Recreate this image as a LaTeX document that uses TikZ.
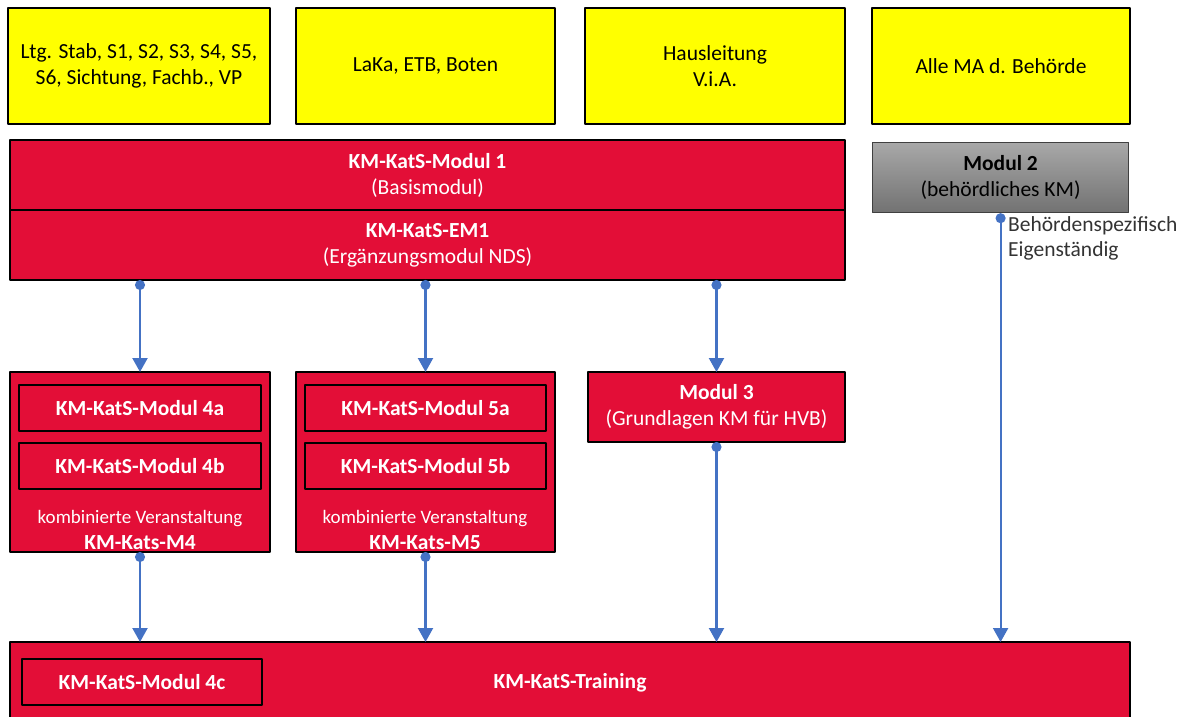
\documentclass[tikz,border=0pt]{standalone}
\usepackage{fontspec}
\setmainfont{Carlito}
\usetikzlibrary{arrows.meta}
\definecolor{kmred}{HTML}{E30E37}
\definecolor{kmyellow}{HTML}{FFFF00}
\definecolor{kmblue}{HTML}{4472C4}
\definecolor{greytop}{HTML}{A8A8A8}
\definecolor{greybot}{HTML}{727272}
\begin{document}
\begin{tikzpicture}[x=1pt,y=-1pt,line join=round,font=\fontsize{21.5}{26}\selectfont,
	grpbox/.style={draw,line width=2pt,fill=kmyellow,anchor=north west,align=center,inner sep=0pt,outer sep=0pt},
	modbox/.style={draw,line width=2pt,fill=kmred,text=white,anchor=north west,align=center,inner sep=0pt,outer sep=0pt},
	link/.style={kmblue,line width=2.2pt,{Circle[length=10pt]}-{Triangle[length=14pt,width=15pt]}}]
\useasboundingbox (0,0) rectangle (1187,717);
\clip (0,0) rectangle (1187,717);
	% Zielgruppen
	\node[grpbox,minimum width=262,minimum height=116] (g1) at (8,8) {Ltg. Stab, S1, S2, S3, S4, S5,\\S6, Sichtung, Fachb., VP};
	\node[grpbox,minimum width=259,minimum height=116] (g2) at (296,8) {LaKa, ETB, Boten};
	\node[grpbox,minimum width=260,minimum height=116] (g3) at (585,8) {Hausleitung\\V.i.A.};
	\node[grpbox,minimum width=258,minimum height=116] (g4) at (872,8) {Alle MA d. Behörde};
	% Basis
	\node[modbox,minimum width=835,minimum height=70] (mod1) at (10,140) {\textbf{KM-KatS-Modul 1}\\(Basismodul)};
	\node[modbox,minimum width=835,minimum height=70] (em1) at (10,210) {\textbf{KM-KatS-EM1}\\(Ergänzungsmodul NDS)};
	\node[draw,line width=1.2pt,draw=black!75,top color=greytop,bottom color=greybot,anchor=north west,align=center,inner sep=0pt,
		minimum width=256,minimum height=70] (mod2) at (872,142) {\textbf{Modul 2}\\(behördliches KM)};
	\node[anchor=north west,align=left,inner sep=0pt,font=\fontsize{21.5}{25}\selectfont,text=black!80] (spec) at (1008,216) {Behördenspezifisch\\Eigenständig};
	% Aufbau
	\node[modbox,minimum width=260,minimum height=180] (m4) at (10,372) {};
	\node[modbox,minimum width=242,minimum height=46] (m4a) at (19,385) {\textbf{KM-KatS-Modul 4a}};
	\node[modbox,minimum width=242,minimum height=46] (m4b) at (19,443) {\textbf{KM-KatS-Modul 4b}};
	\node[align=center,text=white,inner sep=0pt] (m4lbl) at (140,530) {{\fontsize{19}{22}\selectfont kombinierte Veranstaltung}\\\textbf{KM-Kats-M4}};
	\node[modbox,minimum width=259,minimum height=180] (m5) at (296,372) {};
	\node[modbox,minimum width=241,minimum height=46] (m5a) at (305,385) {\textbf{KM-KatS-Modul 5a}};
	\node[modbox,minimum width=241,minimum height=46] (m5b) at (305,443) {\textbf{KM-KatS-Modul 5b}};
	\node[align=center,text=white,inner sep=0pt] (m5lbl) at (425,530) {{\fontsize{19}{22}\selectfont kombinierte Veranstaltung}\\\textbf{KM-Kats-M5}};
	\node[modbox,minimum width=257,minimum height=70] (mod3) at (588,372) {\textbf{Modul 3}\\(Grundlagen KM für HVB)};
	% Training
	\node[modbox,minimum width=1120,minimum height=82] (train) at (10,642) {\textbf{KM-KatS-Training}};
	\node[modbox,minimum width=240,minimum height=46] (m4c) at (22,659) {\textbf{KM-KatS-Modul 4c}};
	% Verbindungen
	\draw[link] (em1.south -| m4.north) -- (m4.north);
	\draw[link] (em1.south -| m5.north) -- (m5.north);
	\draw[link] (em1.south -| mod3.north) -- (mod3.north);
	\draw[link] (m4.south) -- (m4.south |- train.north);
	\draw[link] (m5.south) -- (m5.south |- train.north);
	\draw[link] (mod3.south) -- (mod3.south |- train.north);
	\draw[link] (mod2.south) -- (mod2.south |- train.north);
\end{tikzpicture}
\end{document}
